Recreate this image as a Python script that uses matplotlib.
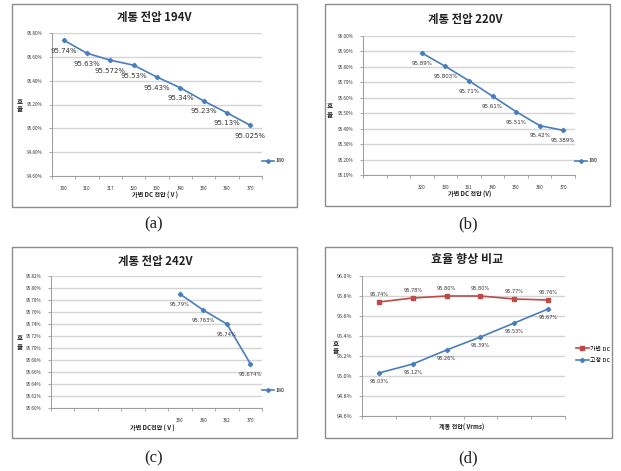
import matplotlib
matplotlib.use("Agg")
import matplotlib.pyplot as plt
from matplotlib.patches import Rectangle
from matplotlib.lines import Line2D

plt.rcParams['font.family'] = ['Noto Sans CJK KR', 'DejaVu Sans']

# ---- data ----
cats_a = ['300', '310', '317', '320', '330', '340', '350', '360', '370']
eff_a = [95.74, 95.63, 95.572, 95.53, 95.43, 95.34, 95.23, 95.13, 95.025]

cats_b = ['', '', '320', '330', '331', '340', '350', '360', '370']
eff_b = [95.89, 95.803, 95.71, 95.61, 95.51, 95.42, 95.389]

cats_c = ['', '', '', '', '', '350', '360', '362', '370']
eff_c = [95.79, 95.763, 95.74, 95.674]

grid_v = ['', '', '', '', '', '']
eff_var = [95.74, 95.78, 95.80, 95.80, 95.77, 95.76]
eff_fix = [95.03, 95.12, 95.26, 95.39, 95.53, 95.67]

BLUE = "#4A7EBB"
RED = "#BE4B48"
GRID = "#D4D4D4"
AXC = "#9A9A9A"

W, H = 621, 471
fig = plt.figure(figsize=(W / 100, H / 100), dpi=100)


def fx(x):
    return x / W


def fy(y):
    return 1 - y / H


def px_axes(x0, y0, x1, y1):
    return fig.add_axes([fx(x0), fy(y1), (x1 - x0) / W, (y1 - y0) / H])


def frame(x0, y0, x1, y1):
    fig.patches.append(Rectangle((fx(x0), fy(y1)), (x1 - x0) / W, (y1 - y0) / H,
                                 transform=fig.transFigure, fill=False,
                                 edgecolor="#8C8C8C", linewidth=1.0))


def ylab(x, y):
    # stacked Korean y label
    fig.text(fx(x), fy(y - 4), "효", ha='center', va='center',
             fontsize=4.8, fontweight='bold', color="#222222")
    fig.text(fx(x), fy(y + 4), "율", ha='center', va='center',
             fontsize=4.8, fontweight='bold', color="#222222")


def style_axes(ax, cats, ylo, yhi, step, fmt, tick_fs=3.3):
    n = len(cats)
    ax.set_xlim(-0.5, n - 0.5)
    ax.set_ylim(ylo, yhi)
    nt = int(round((yhi - ylo) / step)) + 1
    yt = [ylo + i * step for i in range(nt)]
    ax.set_yticks(yt)
    ax.set_yticklabels([fmt.format(v) for v in yt], fontsize=tick_fs, color="#333333")
    ax.set_xticks(range(n))
    ax.set_xticklabels(cats, fontsize=tick_fs, color="#333333")
    ax.set_xticks([i - 0.5 for i in range(n + 1)], minor=True)
    ax.tick_params(axis='x', which='major', length=0, pad=7)
    ax.tick_params(axis='x', which='minor', length=2.5, color=AXC, width=0.6)
    ax.tick_params(axis='y', length=2, color=AXC, width=0.6, pad=5)
    ax.grid(axis='y', color=GRID, linewidth=1.0)
    ax.set_axisbelow(True)
    for s in ('top', 'right'):
        ax.spines[s].set_visible(False)
    for s in ('left', 'bottom'):
        ax.spines[s].set_color(AXC)
        ax.spines[s].set_linewidth(0.7)


def single_panel(box, axbox, cats, vals, ylo, yhi, step, title, title_xy,
                 xlabel, xlabel_xy, ylab_xy, label_fs, leg_y):
    frame(*box)
    ax = px_axes(*axbox)
    style_axes(ax, cats, ylo, yhi, step, "{:.2f}%")
    off = len(cats) - len(vals)
    xs = list(range(off, len(cats)))
    ax.plot(xs, vals, color=BLUE, lw=1.2, marker='D', ms=2.2, mec=BLUE, mfc=BLUE)
    for x, v in zip(xs, vals):
        ax.annotate(f"{v:g}%", (x, v), xytext=(0, -7.5), textcoords='offset points',
                    ha='center', va='center', fontsize=label_fs, color="#333333",
                    family=['DejaVu Sans'])
    h = Line2D([], [], color=BLUE, lw=1.2, marker='D', ms=2)
    ax.legend([h], ['180'], loc='center left', bbox_to_anchor=(0.99, leg_y),
              frameon=False, fontsize=3.8, handlelength=2.2, handletextpad=0.3,
              borderaxespad=0)
    fig.text(fx(title_xy[0]), fy(title_xy[1]), title, ha='center', va='center',
             fontsize=8.2, fontweight='bold', color="#222222")
    fig.text(fx(xlabel_xy[0]), fy(xlabel_xy[1]), xlabel, ha='center', va='center',
             fontsize=4.4, fontweight='bold', color="#222222")
    ylab(*ylab_xy)
    return ax


# (a)
single_panel((12, 4, 297, 207), (52, 33, 262, 176), cats_a, eff_a,
             94.60, 95.80, 0.20, "계통 전압 194V", (154, 18),
             "가변 DC 전압 ( V )", (155, 195), (20, 105), 5.0,
             (176 - 161) / 143)

# (b)
single_panel((325, 4, 610, 206), (363, 36, 575, 175), cats_b, eff_b,
             95.10, 96.00, 0.10, "계통 전압 220V", (465, 20),
             "가변 DC 전압 (V)", (470, 194), (330, 110), 4.0,
             (175 - 161) / 139)

# (c)
single_panel((12, 247, 297, 438), (51, 276, 262, 408), cats_c, eff_c,
             95.60, 95.82, 0.02, "계통 전압 242V", (155, 261),
             "가변 DC전압 ( V )", (152, 428), (20, 342), 3.8,
             (408 - 390) / 132)

# (d)
frame(325, 247, 612, 438)
axd = px_axes(362, 276, 565, 416)
style_axes(axd, grid_v, 94.6, 96.0, 0.2, "{:.1f}%", tick_fs=3.9)
xs = list(range(len(grid_v)))
axd.plot(xs, eff_var, color=RED, lw=1.2, marker='s', ms=3, label="가변 DC")
axd.plot(xs, eff_fix, color=BLUE, lw=1.2, marker='D', ms=2.2, label="고정 DC")
for x, v in zip(xs, eff_var):
    axd.annotate(f"{v:.2f}%", (x, v), xytext=(0, 5.5), textcoords='offset points',
                 ha='center', va='center', fontsize=3.6, color="#333333",
                 family=['DejaVu Sans'])
for x, v in zip(xs, eff_fix):
    axd.annotate(f"{v:.2f}%", (x, v), xytext=(0, -6), textcoords='offset points',
                 ha='center', va='center', fontsize=3.6, color="#333333",
                 family=['DejaVu Sans'])
axd.legend(loc='center left', bbox_to_anchor=(1.04, (416 - 354.5) / 140),
           frameon=False, fontsize=4.3, handlelength=2.2, handletextpad=0.3,
           borderaxespad=0, labelspacing=1.0)
fig.text(fx(467), fy(260), "효율 향상 비교", ha='center', va='center',
         fontsize=8.7, fontweight='bold', color="#222222")
fig.text(fx(462), fy(427), "계통 전압( Vrms)", ha='center', va='center',
         fontsize=4.4, fontweight='bold', color="#222222")
ylab(336, 347)

# captions
for lab, cx, cy in [("(a)", 154, 224), ("(b)", 468, 224),
                    ("(c)", 154, 458), ("(d)", 468, 458)]:
    fig.text(fx(cx), fy(cy), lab, ha='center', va='center', fontsize=12,
             family=['Liberation Serif'], color="#222222")

fig.savefig("out.png", dpi=100)
